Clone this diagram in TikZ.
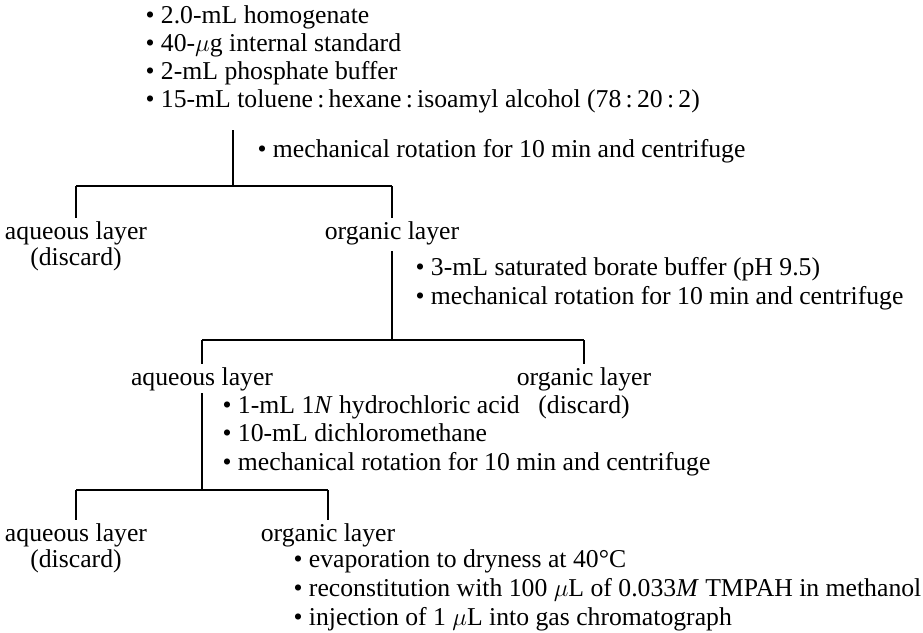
\documentclass[tikz,border=0pt]{standalone}
\usepackage{fontspec}
\setmainfont{Liberation Serif}

\tikzset{
	txt/.style={font=\fontsize{25.7}{28.5}\selectfont, inner sep=0pt},
	bul/.style={txt, anchor=base west},
	lbl/.style={txt, anchor=base},
}

\begin{document}
\begin{tikzpicture}[x=1pt, y=-1pt, line width=1.1pt]
	\useasboundingbox (0,0) rectangle (923,632);

	% Исходная смесь
	\node[bul] (r1) at (145,23) {\textbullet\ 2.0-mL homogenate};
	\node[bul] (r2) at (145,51) {\textbullet\ 40-$\mu$g internal standard};
	\node[bul] (r3) at (145,79) {\textbullet\ 2-mL phosphate buffer};
	\node[bul] (r4) at (145,107) {\textbullet\ 15-mL toluene\,:\,hexane\,:\,isoamyl alcohol (78\,:\,20\,:\,2)};

	% Первое разделение
	\coordinate (t1) at (233,130);
	\coordinate (j1) at (233,186);
	\coordinate (j1l) at (76,186);
	\coordinate (j1r) at (392,186);
	\draw (t1) -- (j1);
	\node[bul] (m1) at (257,157) {\textbullet\ mechanical rotation for 10 min and centrifuge};

	\node[lbl] (aq1) at (76,239) {aqueous layer};
	\node[lbl] (dc1) at (76,265) {(discard)};
	\node[lbl] (og1) at (392,239) {organic layer};
	\draw (j1l) -- (j1r);
	\draw (j1l) -- ([yshift=3pt]aq1.north);
	\draw (j1r) -- ([yshift=3pt]og1.north);

	% Второе разделение
	\coordinate (j2) at (392,340);
	\coordinate (j2l) at (202,340);
	\coordinate (j2r) at (584,340);
	\draw ([yshift=-6pt]og1.south) -- (j2);
	\node[bul] (b1) at (415,275) {\textbullet\ 3-mL saturated borate buffer (pH 9.5)};
	\node[bul] (b2) at (415,304) {\textbullet\ mechanical rotation for 10 min and centrifuge};

	\node[lbl] (aq2) at (202,385) {aqueous layer};
	\node[lbl] (og2) at (584,385) {organic layer};
	\node[lbl] (dc2) at (584,413) {(discard)};
	\draw (j2l) -- (j2r);
	\draw (j2l) -- ([yshift=3pt]aq2.north);
	\draw (j2r) -- ([yshift=3pt]og2.north);

	% Третье разделение
	\coordinate (j3) at (202,490);
	\coordinate (j3l) at (76,490);
	\coordinate (j3r) at (328,490);
	\draw ([yshift=-2pt]aq2.south) -- (j3);
	\node[bul] (c1) at (222,413) {\textbullet\ 1-mL 1\textit{N} hydrochloric acid};
	\node[bul] (c2) at (222,441) {\textbullet\ 10-mL dichloromethane};
	\node[bul] (c3) at (222,470) {\textbullet\ mechanical rotation for 10 min and centrifuge};

	\node[lbl] (aq3) at (76,541) {aqueous layer};
	\node[lbl] (dc3) at (76,567) {(discard)};
	\node[lbl] (og3) at (328,541) {organic layer};
	\draw (j3l) -- (j3r);
	\draw (j3l) -- ([yshift=3pt]aq3.north);
	\draw (j3r) -- ([yshift=3pt]og3.north);

	% Анализ
	\node[bul] (d1) at (293,567) {\textbullet\ evaporation to dryness at 40°C};
	\node[bul] (d2) at (293,596) {\textbullet\ reconstitution with 100 $\mu$L of 0.033\textit{M} TMPAH in methanol};
	\node[bul] (d3) at (293,625) {\textbullet\ injection of 1 $\mu$L into gas chromatograph};
\end{tikzpicture}
\end{document}
